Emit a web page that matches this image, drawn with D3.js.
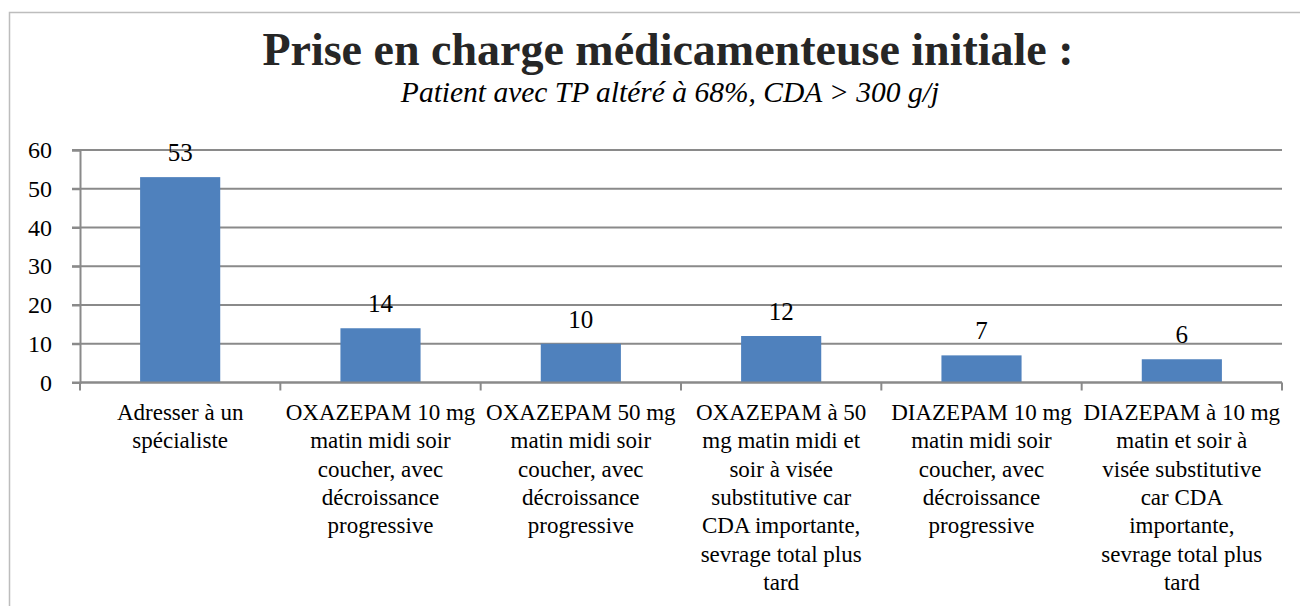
<!DOCTYPE html>
<html>
<head>
<meta charset="utf-8">
<script src="https://cdn.jsdelivr.net/npm/d3@7"></script>
<style>
  html, body { margin: 0; padding: 0; background: #fff; }
  svg { display: block; font-family: "Liberation Serif", "DejaVu Serif", serif; }
  text { font-family: "Liberation Serif", "DejaVu Serif", serif; fill: #000; }
</style>
</head>
<body>
<svg id="chart" width="1300" height="606"></svg>
<script>
// chart data
const titleText = "Prise en charge médicamenteuse initiale :";
const subtitleText = "Patient avec TP altéré à 68%, CDA > 300 g/j";

const categories = [
  "Adresser à un\nspécialiste",
  "OXAZEPAM 10 mg\nmatin midi soir\ncoucher, avec\ndécroissance\nprogressive",
  "OXAZEPAM 50 mg\nmatin midi soir\ncoucher, avec\ndécroissance\nprogressive",
  "OXAZEPAM à 50\nmg matin midi et\nsoir à visée\nsubstitutive car\nCDA importante,\nsevrage total plus\ntard",
  "DIAZEPAM 10 mg\nmatin midi soir\ncoucher, avec\ndécroissance\nprogressive",
  "DIAZEPAM à 10 mg\nmatin et soir à\nvisée substitutive\ncar CDA\nimportante,\nsevrage total plus\ntard"
];
const values = [53, 14, 10, 12, 7, 6];
const yTicks = [0, 10, 20, 30, 40, 50, 60];

const svg = d3.select("#chart");

// outer frame (runs off the right and bottom edges)
svg.append("rect")
  .attr("x", 9.5)
  .attr("y", 12.5)
  .attr("width", 1320)
  .attr("height", 620)
  .attr("fill", "none")
  .attr("stroke", "#bdbdbd")
  .attr("stroke-width", 1.5);

svg.append("text")
  .attr("x", 668)
  .attr("y", 65)
  .attr("text-anchor", "middle")
  .style("font-size", "46px")
  .style("font-weight", "bold")
  .style("fill", "#262626")
  .text(titleText);

svg.append("text")
  .attr("x", 670)
  .attr("y", 102)
  .attr("text-anchor", "middle")
  .style("font-size", "29.5px")
  .style("font-style", "italic")
  .text(subtitleText);

const plot = { left: 80, right: 1282, top: 150, bottom: 382.5 };

const x = d3.scaleBand()
  .domain(d3.range(categories.length))
  .range([plot.left, plot.right])
  .paddingInner(0.6)
  .paddingOuter(0.3);

const xEdge = d3.scaleLinear()
  .domain([0, categories.length])
  .range([plot.left, plot.right]);

const y = d3.scaleLinear()
  .domain([0, 60])
  .range([plot.bottom, plot.top]);

// gridlines
svg.append("g")
  .selectAll("line")
  .data(yTicks)
  .enter()
  .append("line")
  .attr("x1", plot.left - 8)
  .attr("x2", plot.right)
  .attr("y1", (d) => y(d))
  .attr("y2", (d) => y(d))
  .attr("stroke", "#8a8a8a")
  .attr("stroke-width", 2);

// y axis
const yAxis = svg.append("g")
  .attr("transform", `translate(${plot.left}, 0)`)
  .call(d3.axisLeft(y).tickValues(yTicks).tickSize(8).tickPadding(20));
yAxis.attr("font-family", null).attr("font-size", null);
yAxis.select(".domain").attr("stroke", "#8a8a8a").attr("stroke-width", 2);
yAxis.selectAll(".tick line").attr("stroke", "#8a8a8a").attr("stroke-width", 2);
yAxis.selectAll(".tick text")
  .style("font-size", "24px")
  .attr("fill", "#000");

// bars
svg.append("g")
  .selectAll("rect")
  .data(values)
  .enter()
  .append("rect")
  .attr("x", (d, i) => x(i))
  .attr("y", (d) => y(d))
  .attr("width", x.bandwidth())
  .attr("height", (d) => y(0) - y(d))
  .attr("fill", "#4f81bd");

// value labels
svg.append("g")
  .selectAll("text")
  .data(values)
  .enter()
  .append("text")
  .attr("x", (d, i) => x(i) + x.bandwidth() / 2)
  .attr("y", (d) => y(d) - 16)
  .attr("text-anchor", "middle")
  .style("font-size", "25px")
  .text((d) => d);

// x axis line and boundary ticks
svg.append("line")
  .attr("x1", plot.left)
  .attr("x2", plot.right)
  .attr("y1", y(0))
  .attr("y2", y(0))
  .attr("stroke", "#8a8a8a")
  .attr("stroke-width", 2);

svg.append("g")
  .selectAll("line")
  .data(d3.range(categories.length + 1))
  .enter()
  .append("line")
  .attr("x1", (d) => xEdge(d))
  .attr("x2", (d) => xEdge(d))
  .attr("y1", y(0))
  .attr("y2", y(0) + 8)
  .attr("stroke", "#8a8a8a")
  .attr("stroke-width", 2);

// category labels
const labels = svg.append("g")
  .selectAll("text")
  .data(categories)
  .enter()
  .append("text")
  .attr("text-anchor", "middle")
  .style("font-size", "23px");

labels.each(function (d, i) {
  const t = d3.select(this);
  d.split("\n").forEach((line, j) => {
    t.append("tspan")
      .attr("x", x(i) + x.bandwidth() / 2)
      .attr("y", 420 + j * 28.3)
      .text(line);
  });
});
</script>
</body>
</html>
